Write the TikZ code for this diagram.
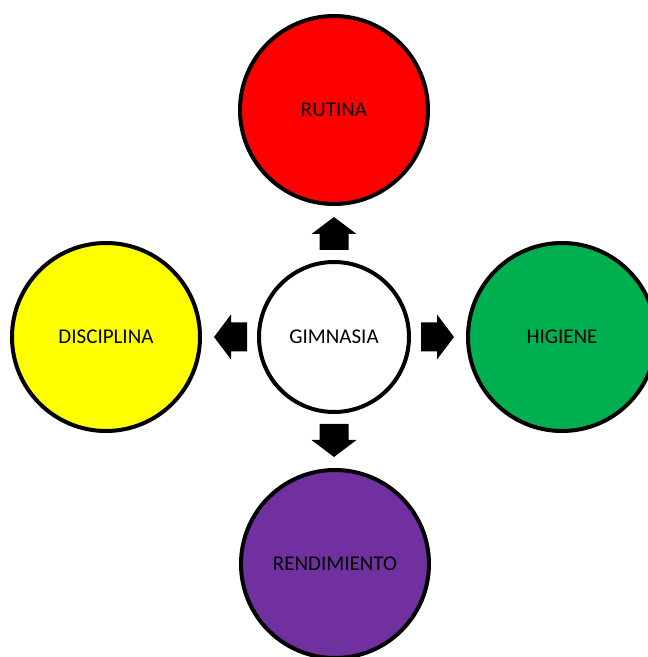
\documentclass[tikz,border=0pt]{standalone}
\usepackage{fontspec}
\setmainfont{Carlito}
\definecolor{cred}{HTML}{FF0000}
\definecolor{cyellow}{HTML}{FFFF00}
\definecolor{cgreen}{HTML}{00B050}
\definecolor{cpurple}{HTML}{7030A0}
\tikzset{
  bigcirc/.style={circle, draw=black, line width=4pt, minimum size=188pt, inner sep=0pt,
    font=\fontsize{21}{24}\selectfont, text=black},
  hubcirc/.style={circle, draw=black, line width=4pt, fill=white, minimum size=150pt, inner sep=0pt,
    font=\fontsize{21}{24}\selectfont, text=black},
  blockarrow/.style={fill=black, draw=none}
}
\begin{document}
\begin{tikzpicture}[x=1pt,y=1pt]
\useasboundingbox (0,0) rectangle (648,657);
\clip (0,0) rectangle (648,657);
\fill[white] (0,0) rectangle (648,657);
\node[hubcirc] (G) at (334,320) {GIMNASIA};
\node[bigcirc, fill=cred] (R) at (334,547) {RUTINA};
\node[bigcirc, fill=cyellow] (Y) at (106,320) {DISCIPLINA};
\node[bigcirc, fill=cgreen] (H) at (562,320) {HIGIENE};
\node[bigcirc, fill=cpurple] (P) at (335,93) {RENDIMIENTO};
\foreach \ang in {0,90,180,270}{
  \begin{scope}[shift={(G.center)}, rotate=\ang]
    \fill[blockarrow] (87,-14.5) -- (103,-14.5) -- (103,-22.5) -- (120,0) -- (103,22.5) -- (103,14.5) -- (87,14.5) -- cycle;
  \end{scope}
}
\end{tikzpicture}
\end{document}
